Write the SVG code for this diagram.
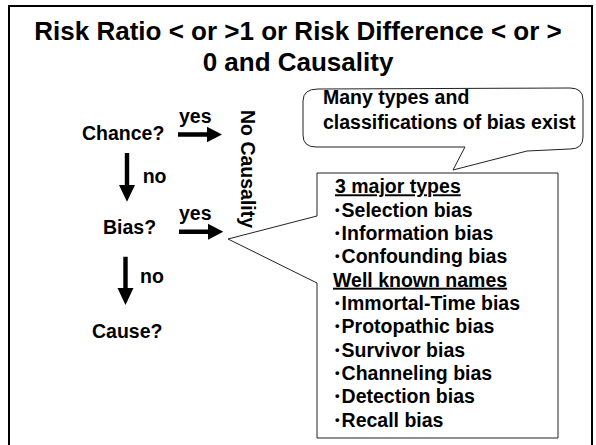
<svg xmlns="http://www.w3.org/2000/svg" width="596" height="445" viewBox="0 0 596 445">
  <style>
    text { font-family: "Liberation Sans", Arial, sans-serif; font-weight: bold; fill: #000; }
    .title { font-size: 26px; text-anchor: middle; }
    .body { font-size: 19.5px; }
    .u { text-decoration: underline; }
    .dot { font-size: 13px; }
    .outline { fill: #fff; stroke: #222; stroke-width: 1; }
    .block { fill: #000; stroke: none; }
  </style>
  <rect x="0" y="0" width="596" height="445" fill="#fff"/>
  <!-- slide frame -->
  <rect x="9" y="6" width="583" height="460" fill="none" stroke="#000" stroke-width="2"/>

  <g id="title">
    <text class="title" x="298" y="40">Risk Ratio &lt; or &gt;1 or Risk Difference &lt; or &gt;</text>
    <text class="title" x="298" y="71">0 and Causality</text>
  </g>

  <g id="chance"><text class="body" x="82" y="140">Chance?</text></g>
  <g id="bias"><text class="body" x="103" y="234">Bias?</text></g>
  <g id="cause"><text class="body" x="92" y="338">Cause?</text></g>
  <g id="no-causality">
    <text class="body" transform="translate(240.5,110) rotate(90)">No Causality</text>
  </g>

  <g id="bubble">
    <path class="outline" d="M318,89 L570,88 Q583,88 583,100 L583,137 Q583,149 570,149 L527,151 L453,170 L465,147 L316,147 Q303,147 303,135 L303,101 Q303,89 318,89 Z"/>
    <text class="body" x="323" y="104">Many types and</text>
    <text class="body" x="323" y="129">classifications of bias exist</text>
  </g>

  <g id="bias-list">
    <path class="outline" d="M317,173 L558,173 L558,438 L317,438 L317,283 L228,239 L317,216 Z"/>
    <text class="body u" x="335" y="193.3">3 major types</text>
    <text class="body" x="335" y="216.7"><tspan class="dot" dy="-3">•</tspan><tspan dx="2" dy="3">Selection bias</tspan></text>
    <text class="body" x="335" y="240"><tspan class="dot" dy="-3">•</tspan><tspan dx="2" dy="3">Information bias</tspan></text>
    <text class="body" x="335" y="263.3"><tspan class="dot" dy="-3">•</tspan><tspan dx="2" dy="3">Confounding bias</tspan></text>
    <text class="body u" x="333" y="286.7">Well known names</text>
    <text class="body" x="335" y="310"><tspan class="dot" dy="-3">•</tspan><tspan dx="2" dy="3">Immortal-Time bias</tspan></text>
    <text class="body" x="335" y="333.3"><tspan class="dot" dy="-3">•</tspan><tspan dx="2" dy="3">Protopathic bias</tspan></text>
    <text class="body" x="335" y="356.7"><tspan class="dot" dy="-3">•</tspan><tspan dx="2" dy="3">Survivor bias</tspan></text>
    <text class="body" x="335" y="380"><tspan class="dot" dy="-3">•</tspan><tspan dx="2" dy="3">Channeling bias</tspan></text>
    <text class="body" x="335" y="403.3"><tspan class="dot" dy="-3">•</tspan><tspan dx="2" dy="3">Detection bias</tspan></text>
    <text class="body" x="335" y="426.7"><tspan class="dot" dy="-3">•</tspan><tspan dx="2" dy="3">Recall bias</tspan></text>
  </g>

  <g id="connectors">
    <!-- Chance? -> No Causality -->
    <polygon class="block" points="178,132.3 207,132.3 207,126.7 222,134.5 207,142.3 207,136.7 178,136.7"/>
    <text class="body" x="179" y="123">yes</text>
    <!-- Bias? -> No Causality -->
    <polygon class="block" points="179,229.5 208,229.5 208,223.7 223.3,231.7 208,239.7 208,234 179,234"/>
    <text class="body" x="179" y="220">yes</text>
    <!-- Chance? -> Bias? -->
    <polygon class="block" points="124.8,153 129.2,153 129.2,185 135,185 127,201.7 119,185 124.8,185"/>
    <text class="body" x="142.7" y="183.3">no</text>
    <!-- Bias? -> Cause? -->
    <polygon class="block" points="123.3,256.7 127.7,256.7 127.7,288 133.5,288 125.5,305 117.5,288 123.3,288"/>
    <text class="body" x="140" y="283.3">no</text>
  </g>
</svg>
